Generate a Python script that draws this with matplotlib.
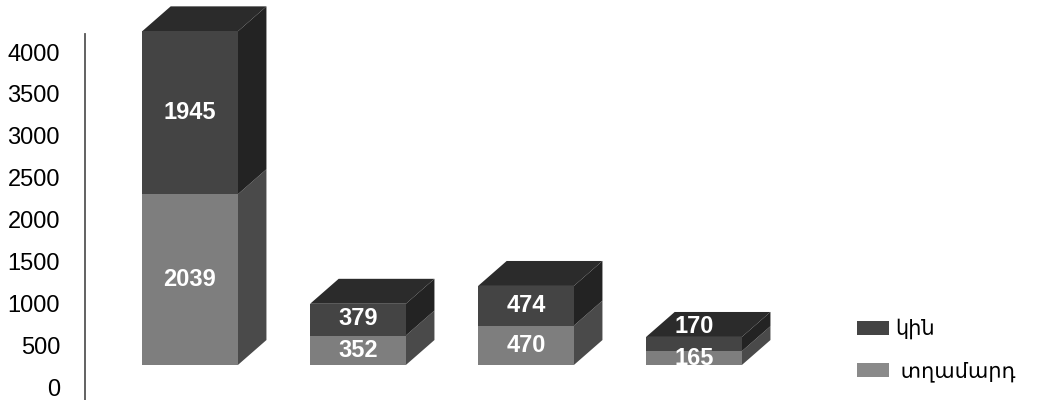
import matplotlib.pyplot as plt
from matplotlib.patches import Rectangle, Polygon, Patch

women = [1945, 379, 474, 170]
men = [2039, 352, 470, 165]
labels = ['կին', ' տղամարդ']
yticks = [0, 500, 1000, 1500, 2000, 2500, 3000, 3500, 4000]

# colours: front / side / top faces
w_front, w_side, w_top = '#444444', '#232323', '#2b2b2b'
m_front, m_side = '#7e7e7e', '#4a4a4a'

width = 0.57
dx, dy = 0.17, 298      # depth offset of the pseudo-3d boxes
floor = 263             # front faces sit slightly above the axis zero

fig = plt.figure(figsize=(10.43, 4), dpi=100)
ax = fig.add_axes([85 / 1043, 0, 1 - 85 / 1043, 1])
ax.set_xlim(-0.625, -0.625 + 958 / 168)
ax.set_ylim(-155, 4621)


def box(x0, y0, h, front, side, top=None):
    x1 = x0 + width
    y1 = y0 + h
    ax.add_patch(Rectangle((x0, y0), width, h, facecolor=front, edgecolor='none', zorder=3))
    ax.add_patch(Polygon([(x1, y0), (x1 + dx, y0 + dy), (x1 + dx, y1 + dy), (x1, y1)],
                         facecolor=side, edgecolor='none', zorder=2))
    if top:
        ax.add_patch(Polygon([(x0, y1), (x0 + dx, y1 + dy), (x1 + dx, y1 + dy), (x1, y1)],
                             facecolor=top, edgecolor='none', zorder=2))


font = ['Liberation Sans', 'DejaVu Sans']
for i, (w, m) in enumerate(zip(women, men)):
    x0 = i - width / 2
    box(x0, floor, m, m_front, m_side)
    box(x0, floor + m, w, w_front, w_side, w_top)
    ym = floor + m / 2
    yw = max(floor + m + w / 2, ym + 380)
    ax.text(i, ym, str(m), color='white', fontsize=17, fontweight='bold',
            ha='center', va='center', family=font, zorder=4)
    ax.text(i, yw, str(w), color='white', fontsize=17, fontweight='bold',
            ha='center', va='center', family=font, zorder=4)

ax.set_yticks(yticks)
ax.set_yticklabels([str(t) for t in yticks], family=font, fontsize=17)
ax.tick_params(axis='y', length=0, pad=18)
ax.set_xticks([])
for s in ['top', 'right', 'bottom']:
    ax.spines[s].set_visible(False)
ax.spines['left'].set_color('#555555')
ax.spines['left'].set_linewidth(1.3)
ax.spines['left'].set_bounds(-155, 4210)

handles = [Patch(facecolor=w_front, edgecolor='none'),
           Patch(facecolor='#8a8a8a', edgecolor='none')]
fig.legend(handles, labels, loc='upper left', bbox_to_anchor=(838 / 1043, 1 - 300 / 400),
           frameon=False, prop={'family': font, 'size': 15},
           handlelength=1.55, handleheight=0.65, handletextpad=0.3, labelspacing=1.05)

fig.savefig('out.png', dpi=100)
